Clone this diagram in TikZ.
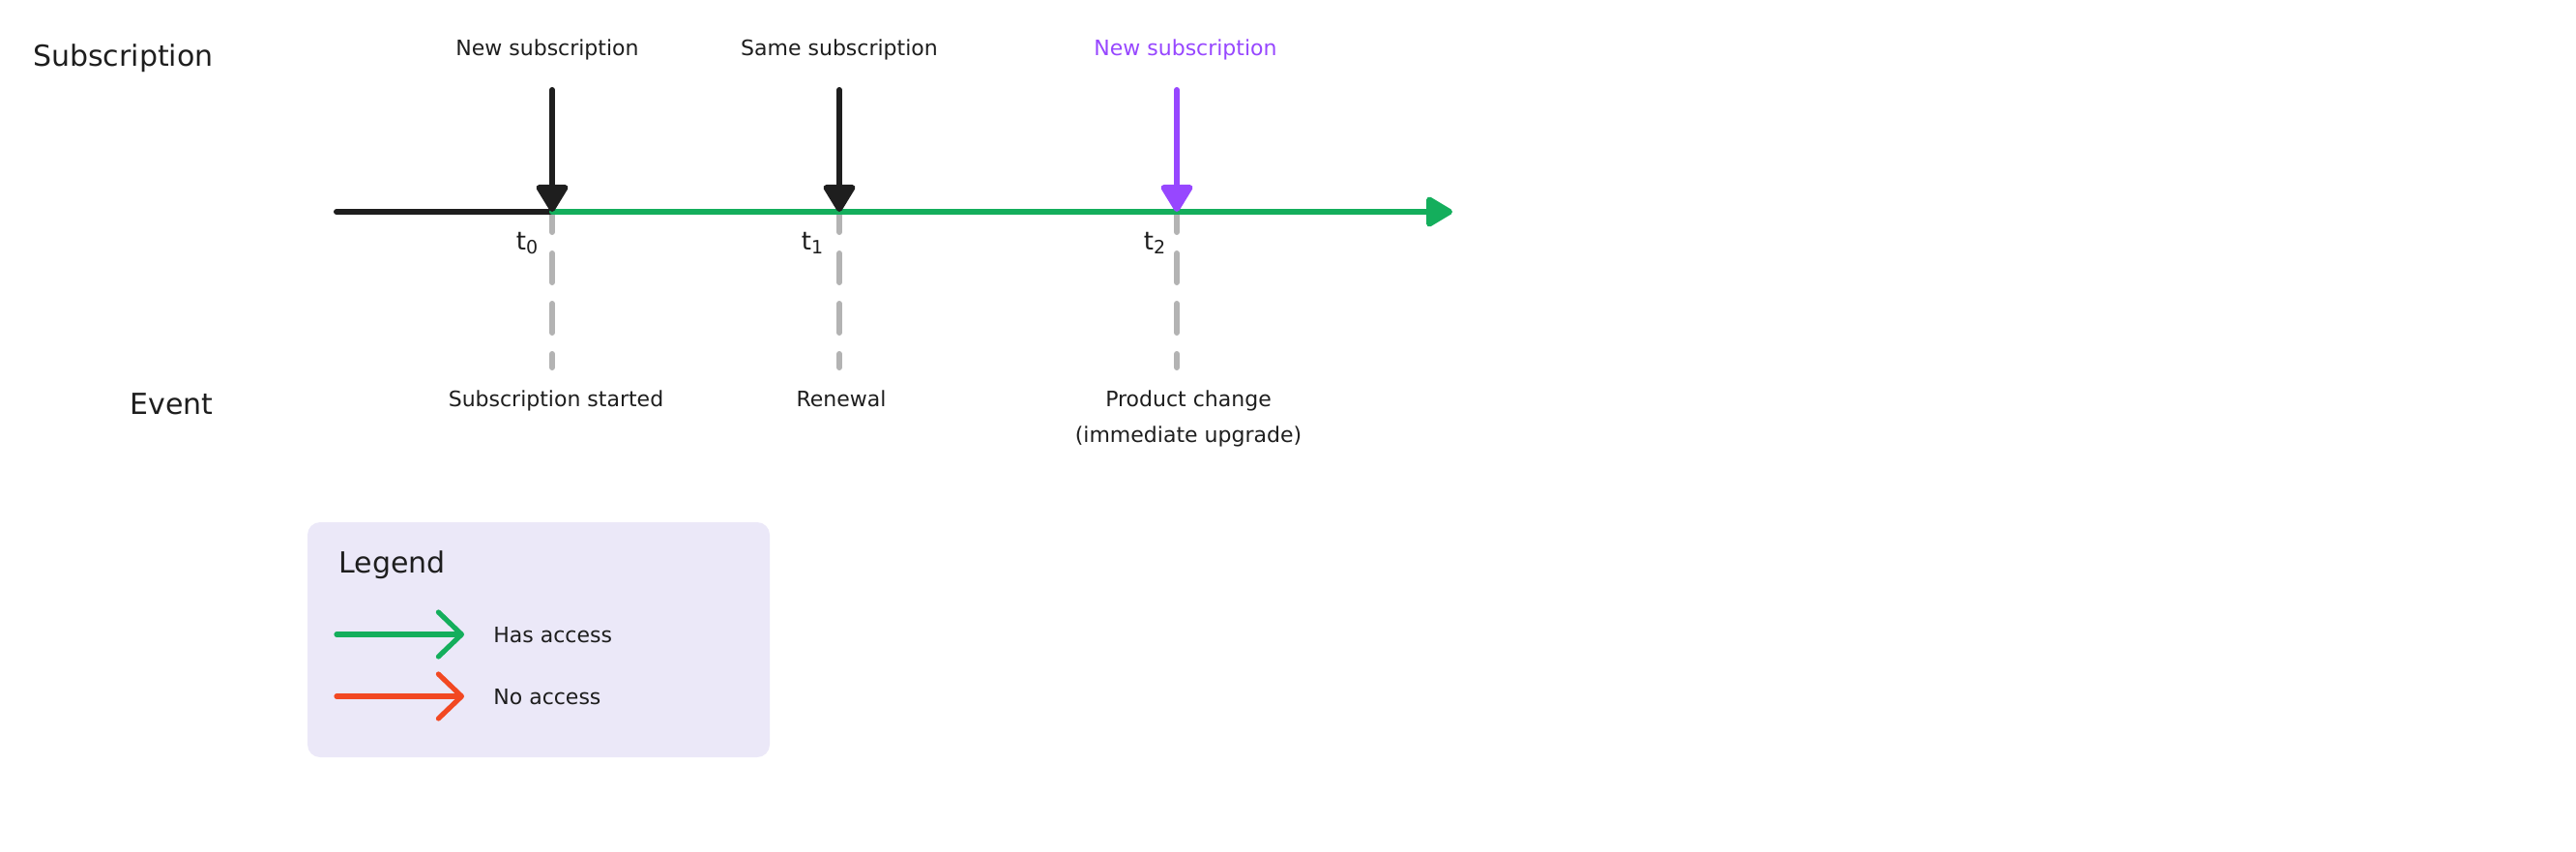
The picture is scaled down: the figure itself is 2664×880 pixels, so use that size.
\documentclass[tikz,border=0pt]{standalone}
\usepackage{fontspec}
\setmainfont{DejaVu Sans}
\usetikzlibrary{arrows.meta}
\definecolor{ink}{HTML}{1E1E1E}
\definecolor{accgreen}{HTML}{14AE5C}
\definecolor{accred}{HTML}{F24822}
\definecolor{accpurple}{HTML}{9747FF}
\definecolor{dashgrey}{HTML}{B3B3B3}
\definecolor{legendbg}{HTML}{EBE8F8}
\begin{document}
\begin{tikzpicture}[x=0.5pt,y=-0.5pt,
  biglabel/.style={font=\fontsize{15}{18}\selectfont, text=ink, inner sep=0pt},
  smalllabel/.style={font=\fontsize{11}{18.5}\selectfont, text=ink, inner sep=0pt, align=center},
  tlabel/.style={font=\fontsize{13}{15}\selectfont, text=ink, inner sep=0pt, anchor=base},
  mainline/.style={line width=3pt, line cap=round},
  eventarrow/.style={line width=3pt, line cap=round, -{Triangle[length=15.5pt,width=18pt,round]}},
  guide/.style={dashgrey, line width=3pt, line cap=round, dash pattern=on 15pt off 11pt, dash phase=6pt},
  legendarrow/.style={line width=2.6pt, line cap=round, -{Straight Barb[length=12pt,width=23pt,round]}}
]
\useasboundingbox (0,0) rectangle (2664,880);

% legend box
\fill[legendbg, rounded corners=6.5pt] (318,540) rectangle (796,783);

% row labels
\node[biglabel, anchor=base east] (rowsub) at (221,68) {Subscription};
\node[biglabel, anchor=base east] (rowevt) at (221,428) {Event};

% time points
\coordinate (start) at (348,219);
\coordinate (p0) at (571,219);
\coordinate (p1) at (868,219);
\coordinate (p2) at (1217,219);
\coordinate (finish) at (1502,219);
\coordinate (a0) at (571,93);
\coordinate (a1) at (868,93);
\coordinate (a2) at (1217,93);
\coordinate (g0s) at (571,222);
\coordinate (g1s) at (868,222);
\coordinate (g2s) at (1217,222);
\coordinate (g0e) at (571,380);
\coordinate (g1e) at (868,380);
\coordinate (g2e) at (1217,380);

% guides
\draw[guide] (g0s) -- (g0e);
\draw[guide] (g1s) -- (g1e);
\draw[guide] (g2s) -- (g2e);

% timeline
\draw[mainline, ink] (start) -- (p0);
\draw[mainline, accgreen, -{Triangle[length=15pt,width=17pt,round]}] (p0) -- (finish);

% event arrows
\draw[eventarrow, ink] (a0) -- (p0);
\draw[eventarrow, ink] (a1) -- (p1);
\draw[eventarrow, accpurple] (a2) -- (p2);

% top labels
\node[smalllabel, anchor=base] (top0) at (566,57) {New subscription};
\node[smalllabel, anchor=base] (top1) at (868,57) {Same subscription};
\node[smalllabel, anchor=base, text=accpurple] (top2) at (1226,57) {New subscription};

% t labels
\node[tlabel] (t0) at (545,258) {t\raisebox{-0.3ex}{\fontsize{9.5}{10}\selectfont 0}};
\node[tlabel] (t1) at (840,258) {t\raisebox{-0.3ex}{\fontsize{9.5}{10}\selectfont 1}};
\node[tlabel] (t2) at (1194,258) {t\raisebox{-0.3ex}{\fontsize{9.5}{10}\selectfont 2}};

% event labels
\node[smalllabel, anchor=base] (e0) at (575,420) {Subscription started};
\node[smalllabel, anchor=base] (e1) at (870,420) {Renewal};
\node[smalllabel, anchor=base] (e2) at (1229,457) {Product change\\(immediate upgrade)};

% legend
\node[biglabel, anchor=base west] (legtitle) at (350,592) {Legend};
\coordinate (lg1s) at (348,656);
\coordinate (lg1e) at (480,656);
\coordinate (lg2s) at (348,720);
\coordinate (lg2e) at (480,720);
\draw[legendarrow, accgreen] (lg1s) -- (lg1e);
\draw[legendarrow, accred] (lg2s) -- (lg2e);
\node[smalllabel, anchor=base west] (leg1) at (510,664) {Has access};
\node[smalllabel, anchor=base west] (leg2) at (510,728) {No access};
\end{tikzpicture}
\end{document}
